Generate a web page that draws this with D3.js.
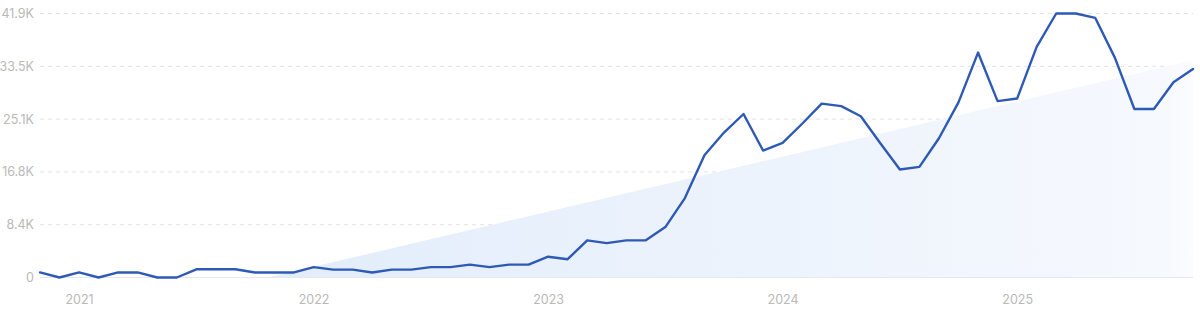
<!DOCTYPE html>
<html>
<head>
<meta charset="utf-8">
<script src="https://cdn.jsdelivr.net/npm/d3@7"></script>
<style>
  html, body { margin: 0; padding: 0; background: #fff; }
  svg { display: block; font-family: Inter, "Noto Sans", sans-serif; }
</style>
</head>
<body>
<svg id="chart" width="1200" height="313"></svg>
<script>
// ---- data ----
const months = [
  "2020-11","2020-12",
  "2021-01","2021-02","2021-03","2021-04","2021-05","2021-06","2021-07","2021-08","2021-09","2021-10","2021-11","2021-12",
  "2022-01","2022-02","2022-03","2022-04","2022-05","2022-06","2022-07","2022-08","2022-09","2022-10","2022-11","2022-12",
  "2023-01","2023-02","2023-03","2023-04","2023-05","2023-06","2023-07","2023-08","2023-09","2023-10","2023-11","2023-12",
  "2024-01","2024-02","2024-03","2024-04","2024-05","2024-06","2024-07","2024-08","2024-09","2024-10","2024-11","2024-12",
  "2025-01","2025-02","2025-03","2025-04","2025-05","2025-06","2025-07","2025-08","2025-09","2025-10"
];
const values = [
  800, 0,
  800, 0, 800, 800, 0, 0, 1300, 1300, 1300, 800, 800, 800,
  1650, 1250, 1250, 800, 1250, 1250, 1650, 1650, 2050, 1650, 2050, 2050,
  3300, 2900, 5900, 5450, 5900, 5900, 8000, 12600, 19400, 23000, 25950, 20150,
  21350, 24400, 27600, 27200, 25600, 21300, 17150, 17550, 22100, 27800,
  35700, 28000, 28400, 36600, 41900, 41900, 41200, 34900, 26750, 26750, 31000, 33100
];
// trend band (start/end values, clipped at zero)
const trendMonths = ["2020-11", "2025-10"];
const trendValues = [-8500, 34500];

const yTicks = [0, 8380, 16760, 25140, 33520, 41900];
const yTickLabels = ["0", "8.4K", "16.8K", "25.1K", "33.5K", "41.9K"];
const xTicks = ["2021-01", "2022-01", "2023-01", "2024-01", "2025-01"];
const xTickLabels = ["2021", "2022", "2023", "2024", "2025"];

// ---- layout ----
const svg = d3.select("#chart");
const mLeft = 40, mRight = 1193, mTop = 13.5, mBottom = 277.5;

const x = d3.scalePoint().domain(months).range([mLeft, mRight]);
const y = d3.scaleLinear().domain([0, 41900]).range([mBottom, mTop]);

// gradient for the trend band
const defs = svg.append("defs");
const grad = defs.append("linearGradient").attr("id", "bandGrad")
  .attr("x1", "0").attr("y1", "0").attr("x2", "1").attr("y2", "0");
grad.append("stop").attr("offset", "0%").attr("stop-color", "#e2edfb");
grad.append("stop").attr("offset", "45%").attr("stop-color", "#ebf2fc");
grad.append("stop").attr("offset", "97%").attr("stop-color", "#f6f9fe");
grad.append("stop").attr("offset", "100%").attr("stop-color", "#fbfcff");

// gridlines
svg.append("g").selectAll("line")
  .data(yTicks.filter(d => d > 0))
  .join("line")
  .attr("x1", mLeft).attr("x2", mRight)
  .attr("y1", d => y(d)).attr("y2", d => y(d))
  .attr("stroke", "#e3e3e3")
  .attr("stroke-width", 1)
  .attr("stroke-dasharray", "4,4");

// trend band: clip linear trend at zero
const tx0 = x(trendMonths[0]), tx1 = x(trendMonths[1]);
const tv0 = trendValues[0], tv1 = trendValues[1];
const zeroX = tx0 + (tx1 - tx0) * (0 - tv0) / (tv1 - tv0);
const bandPts = [[zeroX, y(0)], [tx1, y(tv1)], [tx1, y(0)]];
svg.append("path")
  .attr("d", d3.line()(bandPts) + "Z")
  .attr("fill", "url(#bandGrad)");

// baseline
svg.append("line")
  .attr("x1", mLeft).attr("x2", mRight)
  .attr("y1", y(0)).attr("y2", y(0))
  .attr("stroke", "#e4e8ef").attr("stroke-width", 1);

// y axis labels
const yAxis = d3.axisLeft(y).tickValues(yTicks)
  .tickFormat((d, i) => yTickLabels[i]).tickSize(0).tickPadding(6);
const gy = svg.append("g").attr("transform", `translate(${mLeft},0)`).call(yAxis);
gy.select(".domain").remove();
gy.selectAll("text").attr("fill", "#b9b9b9").attr("font-size", 12.5)
  .attr("font-family", "Inter, 'Noto Sans', sans-serif");

// x axis labels
const xAxis = d3.axisBottom(x).tickValues(xTicks)
  .tickFormat((d, i) => xTickLabels[i]).tickSize(0).tickPadding(0);
const gx = svg.append("g").attr("transform", `translate(0,${mBottom + 18})`).call(xAxis);
gx.select(".domain").remove();
gx.selectAll("text").attr("fill", "#b9b9b9").attr("font-size", 12.5)
  .attr("font-family", "Inter, 'Noto Sans', sans-serif");

// series line
svg.append("path")
  .datum(values)
  .attr("fill", "none")
  .attr("stroke", "#2e5ab6")
  .attr("stroke-width", 2.4)
  .attr("stroke-linejoin", "round")
  .attr("stroke-linecap", "round")
  .attr("d", d3.line().x((d, i) => x(months[i])).y(d => y(d)));
</script>
</body>
</html>
